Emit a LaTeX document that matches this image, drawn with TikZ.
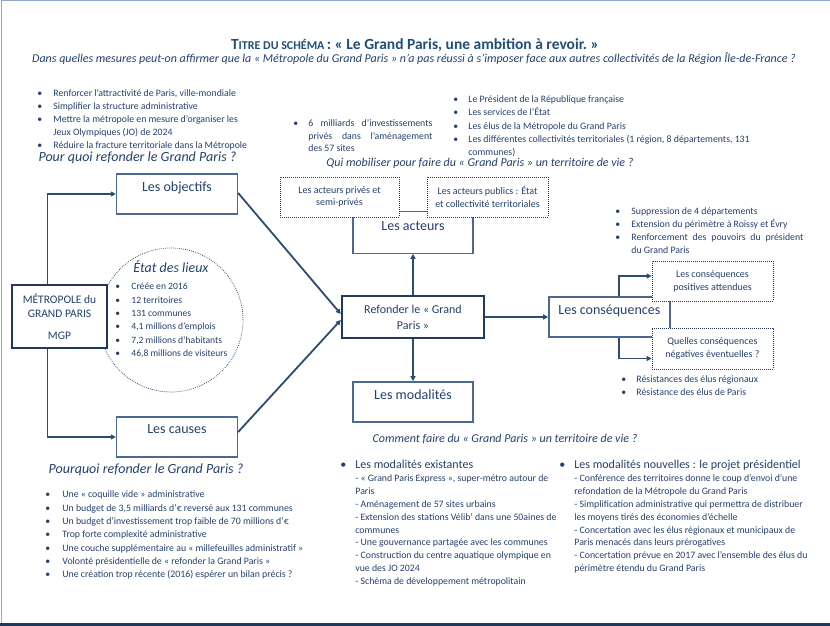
\documentclass[tikz,border=0pt]{standalone}
\usepackage{fontspec}
\setmainfont{Carlito}
\usetikzlibrary{positioning,arrows.meta}
\definecolor{marine}{HTML}{24406C}
\definecolor{titrebleu}{HTML}{1F4E79}
\definecolor{bordure}{HTML}{4A6A92}
\definecolor{fonce}{HTML}{1F3A5C}
\definecolor{trait}{HTML}{2C4C72}
\definecolor{cadre}{HTML}{8FAACC}
\newcommand\puce[1][16pt]{\makebox[#1][l]{\textbullet}}
\newcommand\retrait[1][16pt]{\hspace*{#1}}

\begin{document}
\begin{tikzpicture}[x=1pt, y=-1pt, thick,
    boite/.style = {draw=bordure, line width=1.3pt, fill=white, minimum width=121pt, minimum height=40pt, inner sep=0pt},
    gras/.style = {draw=fonce, line width=2.4pt, fill=white, inner sep=0pt, align=center, text=marine},
    pointille/.style = {draw=fonce, dash pattern=on 0.8pt off 1.2pt, line width=0.8pt, fill=white, minimum width=121pt, minimum height=40pt, inner sep=0pt, align=center, text=marine, font=\fontsize{10}{12.5}\selectfont},
    etiquette/.style = {text=marine, font=\fontsize{14}{16}\selectfont, inner sep=0pt},
    liste/.style = {anchor=north west, align=left, inner sep=0pt, text=marine},
    question/.style = {text=marine, inner sep=0pt},
    fleche/.style = {draw=trait, line width=1.8pt, -{Triangle[length=5pt, width=5pt]}}]
        \useasboundingbox (0,0) rectangle (830,626);
        % cadre de la page
        \draw[cadre, line width=1pt] (1,623) -- (1,1) -- (830,1);
        \draw[fonce, line width=3pt] (0,624) -- (830,624);

        % titre
        \node[text=titrebleu, inner sep=0pt, font=\bfseries] (titre) at (415,45)
            {{\fontsize{15.5}{18}\selectfont T}{\fontsize{12}{18}\selectfont ITRE DU SCHÉMA} {\fontsize{15.5}{18}\selectfont : «~Le Grand Paris, une ambition à revoir.~»}};
        \node[question, font=\fontsize{12}{14}\selectfont\itshape] (soustitre) at (414,59)
            {Dans quelles mesures peut-on affirmer que la «~Métropole du Grand Paris~» n’a pas réussi à s’imposer face aux autres collectivités de la Région Île-de-France ?};

        % etat des lieux
        \node[circle, draw=fonce, dash pattern=on 0.8pt off 1.2pt, line width=0.7pt, minimum size=144pt, inner sep=0pt] (etat) at (171,320) {};
        \node[etiquette, font=\fontsize{14}{16}\selectfont\itshape] (etat-t) at (171,267) {État des lieux};
        \node[liste, font=\fontsize{9.6}{13.4}\selectfont] (etat-l) at (115,280)
            {\strut\puce Créée en 2016\\ \puce 12 territoires\\ \puce 131 communes\\ \puce 4,1 millions d’emplois\\ \puce 7,2 millions d’habitants\\ \puce 46,8 millions de visiteurs};

        % boites
        \node[gras, minimum width=95pt, minimum height=63pt, font=\fontsize{11.5}{14}\selectfont] (mgp) at (59.5,316.5)
            {MÉTROPOLE du\\GRAND PARIS\\[8pt]MGP};
        \node[boite] (objectifs) at (177,194) {};
        \node[boite] (causes) at (177,437) {};
        \node[gras, minimum width=142pt, minimum height=42pt, font=\fontsize{12}{16}\selectfont] (refonder) at (413,317)
            {Refonder le «~Grand\\Paris~»};
        \node[boite, minimum width=120pt, minimum height=42pt, above=41pt of refonder] (acteurs) {};
        \node[boite, minimum width=120pt, below=42pt of refonder] (modalites) {};
        \node[boite, right=63pt of refonder] (consequences) {};
        \node[pointille, minimum width=119pt] (prives) at (339.5,197) {Les acteurs privés et\\semi-privés};
        \node[pointille] (publics) at (487.5,197) {Les acteurs publics : État\\et collectivité territoriales};
        \node[pointille, font=\fontsize{10}{13}\selectfont] (positives) at (712.5,281) {Les conséquences\\positives attendues};
        \node[pointille, minimum height=41pt, font=\fontsize{10}{13}\selectfont] (negatives) at (712.5,348.5) {Quelles conséquences\\négatives éventuelles ?};

        \node[etiquette] (objectifs-t) at ([yshift=-14pt]objectifs.north) {Les objectifs};
        \node[etiquette] (causes-t) at ([yshift=-13pt]causes.north) {Les causes};
        \node[etiquette] (acteurs-t) at ([yshift=-16pt]acteurs.north) {Les acteurs};
        \node[etiquette] (modalites-t) at ([yshift=-13pt]modalites.north) {Les modalités};
        \node[etiquette] (consequences-t) at ([yshift=-14pt]consequences.north) {Les conséquences};

        % fleches
        \draw[fleche] ([xshift=-12pt]mgp.north) |- (objectifs.west);
        \draw[fleche] ([xshift=-12pt]mgp.south) |- (causes.west);
        \draw[fleche] ([yshift=1pt]objectifs.east) -- ([yshift=3pt]refonder.west);
        \draw[fleche] ([yshift=5pt]causes.east) -- ([yshift=-3pt]refonder.west);
        \draw[fleche] (refonder.north) -- (acteurs.south);
        \draw[fleche] (refonder.south) -- (modalites.north);
        \draw[fleche] (refonder.east) -- (consequences.west);
        \draw[fleche] ([xshift=9.5pt]consequences.north) |- ([yshift=5pt]positives.west);
        \draw[fleche] ([xshift=9.5pt]consequences.south) |- ([yshift=-10pt]negatives.west);

        % questions
        \node[question, font=\fontsize{14}{16}\selectfont\itshape] (pourquoi-haut) at (137.5,158) {Pour quoi refonder le Grand Paris ?};
        \node[question, font=\fontsize{12}{14}\selectfont\itshape] (qui) at (480,163) {Qui mobiliser pour faire du «~Grand Paris~» un territoire de vie ?};
        \node[question, font=\fontsize{14}{16}\selectfont\itshape] (pourquoi-bas) at (146,470) {Pourquoi refonder le Grand Paris ?};
        \node[question, font=\fontsize{12}{14}\selectfont\itshape] (comment) at (505,439) {Comment faire du «~Grand Paris~» un territoire de vie ?};

        % listes
        \node[liste, font=\fontsize{9.8}{13}\selectfont] (objectifs-l) at (37,87)
            {\strut\puce Renforcer l’attractivité de Paris, ville-mondiale\\ \puce Simplifier la structure administrative\\ \puce Mettre la métropole en mesure d’organiser les\\ \retrait Jeux Olympiques (JO) de 2024\\ \puce Réduire la fracture territoriale dans la Métropole};
        \node[liste, font=\fontsize{9.8}{12.8}\selectfont] (prives-l) at (293,117)
            {\strut\puce[15pt]\makebox[124pt][s]{6 milliards d’investissements}\\ \retrait[15pt]\makebox[124pt][s]{privés dans l’aménagement}\\ \retrait[15pt]des 57 sites};
        \node[liste, font=\fontsize{9.8}{13.25}\selectfont] (publics-l) at (453,93)
            {\strut\puce[15pt]Le Président de la République française\\ \puce[15pt]Les services de l’État\\ \puce[15pt]Les élus de la Métropole du Grand Paris\\ \puce[15pt]Les différentes collectivités territoriales (1 région, 8 départements, 131\\ \retrait[15pt]communes)};
        \node[liste, font=\fontsize{9.8}{13}\selectfont] (consequences-l) at (615,205)
            {\strut\puce Suppression de 4 départements\\ \puce Extension du périmètre à Roissy et Évry\\ \puce\makebox[172pt][s]{Renforcement des pouvoirs du président}\\ \retrait du Grand Paris};
        \node[liste, font=\fontsize{9.8}{13}\selectfont] (negatives-l) at (621,373)
            {\strut\puce[15pt]Résistances des élus régionaux\\ \puce[15pt]Résistance des élus de Paris};
        \node[liste, font=\fontsize{9.8}{13.35}\selectfont] (causes-l) at (45,488)
            {\strut\puce[17pt]Une «~coquille vide~» administrative\\ \puce[17pt]Un budget de 3,5 milliards d’€ reversé aux 131 communes\\ \puce[17pt]Un budget d’investissement trop faible de 70 millions d’€\\ \puce[17pt]Trop forte complexité administrative\\ \puce[17pt]Une couche supplémentaire au «~millefeuilles administratif~»\\ \puce[17pt]Volonté présidentielle de «~refonder la Grand Paris~»\\ \puce[17pt]Une création trop récente (2016) espérer un bilan précis ?};

        % modalites
        \node[anchor=base west, inner sep=0pt, text=marine, font=\fontsize{12}{14}\selectfont] (existantes) at (340,468) {\puce[15pt]Les modalités existantes};
        \node[anchor=base west, inner sep=0pt, text=marine, font=\fontsize{12}{14}\selectfont] (nouvelles) at (559,468) {\puce[15pt]Les modalités nouvelles : le projet présidentiel};
        \node[liste, font=\fontsize{9.8}{12.9}\selectfont] (existantes-l) at (355,472)
            {\strut- «~Grand Paris Express~», super-métro autour de\\ Paris\\ - Aménagement de 57 sites urbains\\ - Extension des stations Vélib’ dans une 50aines de\\ communes\\ - Une gouvernance partagée avec les communes\\ - Construction du centre aquatique olympique en\\ vue des JO 2024\\ - Schéma de développement métropolitain};
        \node[liste, font=\fontsize{9.8}{12.9}\selectfont] (nouvelles-l) at (574,472)
            {\strut- Conférence des territoires donne le coup d’envoi d’une\\ refondation de la Métropole du Grand Paris\\ - Simplification administrative qui permettra de distribuer\\ les moyens tirés des économies d’échelle\\ - Concertation avec les élus régionaux et municipaux de\\ Paris menacés dans leurs prérogatives\\ - Concertation prévue en 2017 avec l’ensemble des élus du\\ périmètre étendu du Grand Paris};
\end{tikzpicture}
\end{document}
